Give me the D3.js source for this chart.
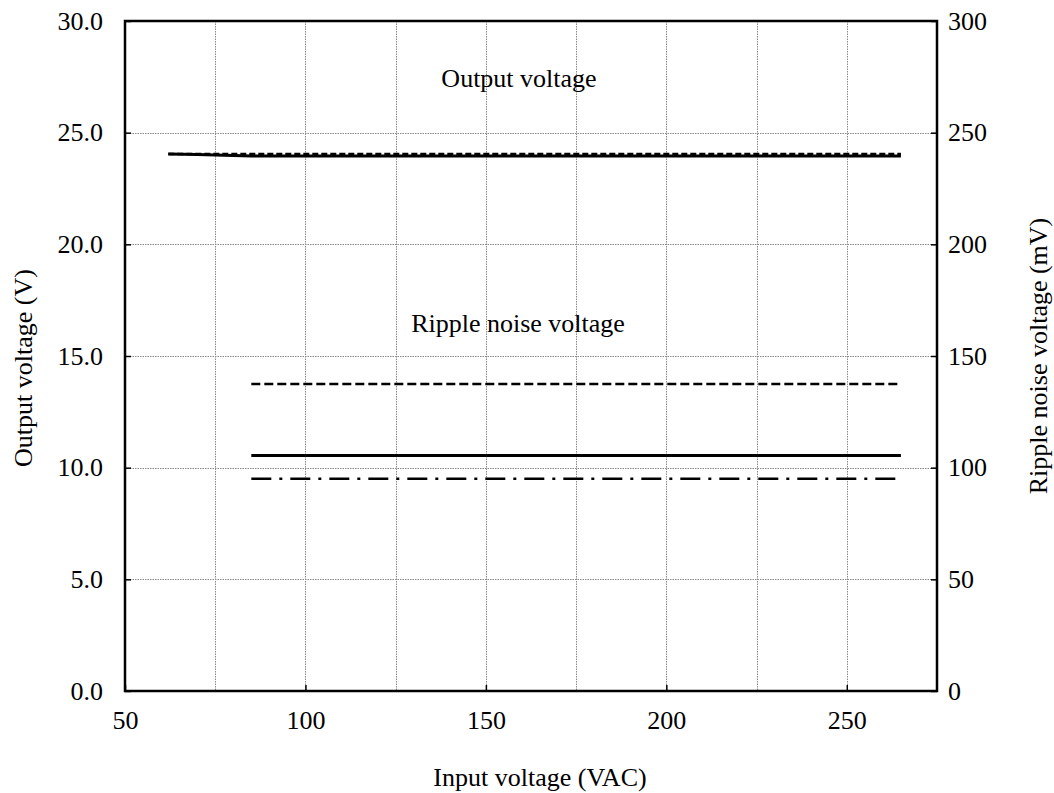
<!DOCTYPE html>
<html>
<head>
<meta charset="utf-8">
<script src="https://cdn.jsdelivr.net/npm/d3@7"></script>
<style>
  html, body { margin: 0; padding: 0; background: #fff; }
  svg text { font-family: "Liberation Serif", "Times New Roman", serif; fill: #000; }
</style>
</head>
<body>
<svg id="chart" width="1054" height="793"></svg>
<script>
// Input voltage (VAC) sample points
const inputVoltage = [62, 70, 85, 100, 150, 200, 250, 265];
const rippleInput = [85, 100, 150, 200, 250, 265];

// Output voltage (V), two load conditions
const outputSolid = [24.05, 24.02, 23.96, 23.95, 23.95, 23.95, 23.95, 23.95];
const outputDashed = [24.05, 24.05, 24.05, 24.05, 24.05, 24.05, 24.05, 24.05];

// Ripple noise voltage (mV), three conditions
const rippleDashed = [137.5, 137.5, 137.5, 137.5, 137.5, 137.5];
const rippleSolid = [105.5, 105.5, 105.5, 105.5, 105.5, 105.5];
const rippleDashDot = [95, 95, 95, 95, 95, 95];

// Axis ticks
const xTicks = [50, 100, 150, 200, 250];
const xGrid = [75, 100, 125, 150, 175, 200, 225, 250];
const yLeftTicks = [0, 5, 10, 15, 20, 25, 30];
const yRightTicks = [0, 50, 100, 150, 200, 250, 300];

const svg = d3.select("#chart");
const L = 125, R = 937, T = 21, B = 691;
const FS = "26px";

const x = d3.scaleLinear().domain([50, 275]).range([L, R]);
const yL = d3.scaleLinear().domain([0, 30]).range([B, T]);
const yR = d3.scaleLinear().domain([0, 300]).range([B, T]);

// grid
const grid = svg.append("g").attr("stroke", "#8a8a8a").attr("stroke-width", 1).attr("stroke-dasharray", "1.5,1");
grid.selectAll("line.v").data(xGrid).join("line")
  .attr("x1", d => Math.round(x(d)) + 0.5).attr("x2", d => Math.round(x(d)) + 0.5)
  .attr("y1", T).attr("y2", B);
grid.selectAll("line.h").data(yLeftTicks.filter(d => d > 0 && d < 30)).join("line")
  .attr("y1", d => Math.round(yL(d)) + 0.5).attr("y2", d => Math.round(yL(d)) + 0.5)
  .attr("x1", L).attr("x2", R);

// axes
const fmt1 = d3.format(".1f");
const ax = svg.append("g").attr("transform", `translate(0,${B})`)
  .call(d3.axisBottom(x).tickValues(xTicks).tickSize(-6).tickPadding(20).tickFormat(d3.format("d")));
const ayL = svg.append("g").attr("transform", `translate(${L},0)`)
  .call(d3.axisLeft(yL).tickValues(yLeftTicks).tickSize(-6).tickPadding(22).tickFormat(fmt1));
const ayR = svg.append("g").attr("transform", `translate(${R},0)`)
  .call(d3.axisRight(yR).tickValues(yRightTicks).tickSize(-6).tickPadding(11).tickFormat(d3.format("d")));
[ax, ayL, ayR].forEach(g => {
  g.select(".domain").remove();
  g.selectAll(".tick line").attr("stroke", "#000").attr("stroke-width", 1.5);
  g.selectAll(".tick text").style("font-size", FS).style("font-family", "Liberation Serif, serif");
});

// frame
svg.append("rect").attr("x", L).attr("y", T).attr("width", R - L).attr("height", B - T)
  .attr("fill", "none").attr("stroke", "#000").attr("stroke-width", 2.5);

// series
function drawLine(xs, ys, yScale, dash, width) {
  const pts = xs.map((v, i) => [v, ys[i]]);
  svg.append("path")
    .attr("d", d3.line().x(d => x(d[0])).y(d => yScale(d[1]))(pts))
    .attr("fill", "none").attr("stroke", "#000").attr("stroke-width", width)
    .attr("stroke-dasharray", dash);
}
drawLine(inputVoltage, outputSolid, yL, null, 3);
drawLine(inputVoltage, outputDashed, yL, "6,3", 2.5);
drawLine(rippleInput, rippleDashed, yR, "9,4", 2.5);
drawLine(rippleInput, rippleSolid, yR, null, 3);
drawLine(rippleInput, rippleDashDot, yR, "20,8,3,8", 2.5);

// labels
svg.append("text").attr("x", 519).attr("y", 87).attr("text-anchor", "middle")
  .style("font-size", FS).text("Output voltage");
svg.append("text").attr("x", 518).attr("y", 332).attr("text-anchor", "middle")
  .style("font-size", FS).text("Ripple noise voltage");
svg.append("text").attr("x", 540).attr("y", 786).attr("text-anchor", "middle")
  .style("font-size", FS).text("Input voltage (VAC)");
svg.append("text").attr("transform", "translate(32,368) rotate(-90)").attr("text-anchor", "middle")
  .style("font-size", FS).text("Output voltage (V)");
svg.append("text").attr("transform", "translate(1047,356) rotate(-90)").attr("text-anchor", "middle")
  .style("font-size", FS).text("Ripple noise voltage (mV)");
</script>
</body>
</html>
